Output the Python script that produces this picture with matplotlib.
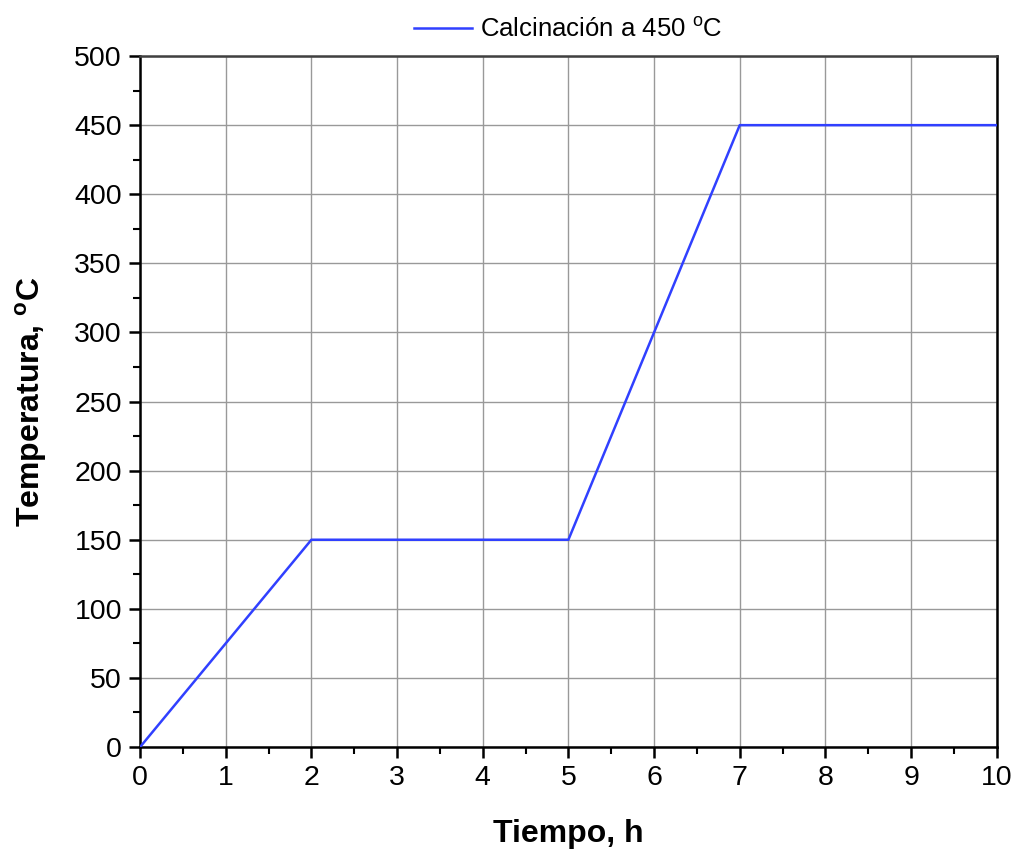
import numpy as np
import matplotlib.pyplot as plt
from matplotlib.ticker import MultipleLocator

plt.rcParams['font.family'] = ['Liberation Sans', 'DejaVu Sans']
plt.rcParams['mathtext.fontset'] = 'custom'
plt.rcParams['mathtext.rm'] = 'Liberation Sans'
plt.rcParams['mathtext.bf'] = 'Liberation Sans:bold'

# calcination program: time (h) vs temperature (C)
tiempo = [0, 2, 5, 7, 10]
temperatura = [0, 150, 150, 450, 450]
serie = r"Calcinación a 450 $^{\mathrm{o}}$C"

fig = plt.figure(figsize=(10.15, 8.52), dpi=100)
ax = fig.add_axes([0.138, 0.1232, 0.844, 0.811])

ax.plot(tiempo, temperatura, color="#3040ff", lw=1.8, label=serie, zorder=3)

ax.set_xlim(0, 10)
ax.set_ylim(0, 500)
ax.xaxis.set_major_locator(MultipleLocator(1))
ax.xaxis.set_minor_locator(MultipleLocator(0.5))
ax.yaxis.set_major_locator(MultipleLocator(50))
ax.yaxis.set_minor_locator(MultipleLocator(25))

ax.grid(True, which="major", color="#999999", lw=1.0)
ax.set_axisbelow(True)

for s in ax.spines.values():
    s.set_linewidth(1.8)
ax.spines["top"].set_color("#404040")

ax.tick_params(which="major", direction="out", length=8, width=1.8, labelsize=20.5, pad=5)
ax.tick_params(which="minor", direction="out", length=5, width=1.5)

ax.set_xlabel("Tiempo, h", fontsize=23, fontweight="bold", labelpad=20)
ax.set_ylabel(r"Temperatura, $^{\mathbf{o}}$C", fontsize=23, fontweight="bold", labelpad=18)

ax.legend(loc="lower center", bbox_to_anchor=(0.5, 1.0), frameon=False, fontsize=18.5,
          handlelength=2.25, handletextpad=0.3, borderaxespad=0.15)

fig.savefig("out.png", dpi=100)
